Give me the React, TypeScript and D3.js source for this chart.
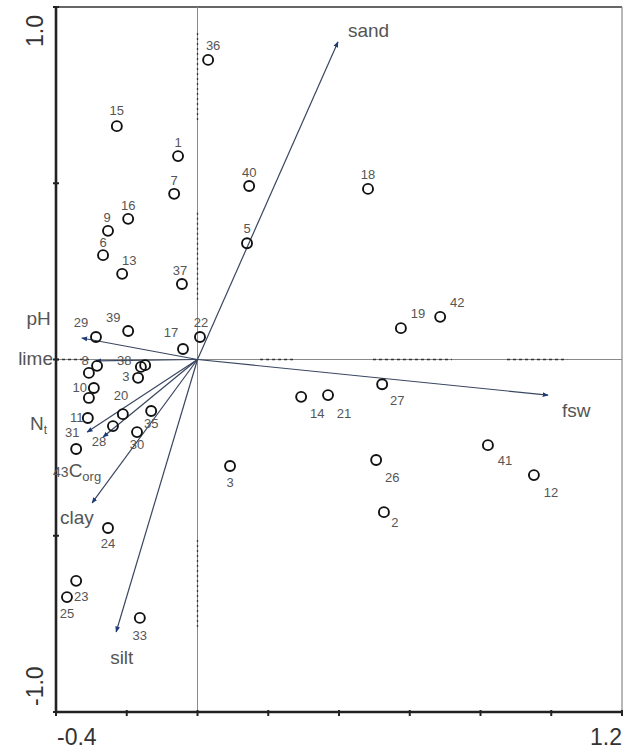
import React from 'react'
import * as d3 from 'd3'

// site scores on the first two axes
const siteIds = [36, 15, 1, 7, 40, 18, 16, 9, 6, 5, 13, 37, 19, 42, 39, 29, 22, 17, 8, 4, 38, 32, 20, 10, 34, 11, 43, 35, 28, 30, 31, 3, 24, 23, 25, 33, 14, 21, 27, 26, 2, 41, 12]
const siteLabels = ['36', '15', '1', '7', '40', '18', '16', '9', '6', '5', '13', '37', '19', '42', '39', '29', '22', '17', '8', '', '38', '3', '20', '10', '', '11', '', '35', '28', '30', '31', '3', '24', '23', '25', '33', '14', '21', '27', '26', '2', '41', '12']
const siteX = [0.030, -0.228, -0.055, -0.066, 0.146, 0.482, -0.196, -0.253, -0.267, 0.140, -0.213, -0.044, 0.575, 0.686, -0.196, -0.287, 0.007, -0.041, -0.284, -0.307, -0.148, -0.160, -0.168, -0.293, -0.307, -0.310, -0.211, -0.131, -0.239, -0.171, -0.343, 0.092, -0.253, -0.343, -0.369, -0.163, 0.293, 0.369, 0.522, 0.505, 0.527, 0.821, 0.951]
const siteY = [0.850, 0.662, 0.577, 0.470, 0.492, 0.484, 0.399, 0.365, 0.296, 0.330, 0.243, 0.214, 0.089, 0.121, 0.081, 0.064, 0.064, 0.030, -0.018, -0.038, -0.016, -0.021, -0.052, -0.081, -0.109, -0.166, -0.155, -0.146, -0.189, -0.206, -0.254, -0.302, -0.478, -0.628, -0.674, -0.733, -0.106, -0.101, -0.070, -0.285, -0.433, -0.243, -0.328]

// environmental variables (biplot arrows)
const envNames = ['sand', 'fsw', 'pH', 'lime', 'Nt', 'Corg', 'clay', 'silt']
const envX = [0.397, 0.991, -0.327, -0.287, -0.312, -0.267, -0.298, -0.230]
const envY = [0.901, -0.101, 0.061, -0.004, -0.206, -0.220, -0.407, -0.773]

const xTicks = [-0.4, -0.2, 0, 0.2, 0.4, 0.6, 0.8, 1.0, 1.2]
const yTicks = [-1, -0.5, 0, 0.5, 1]

// label placement: [dx, dy] from the point, in px
const siteLabelPos: Record<number, [number, number]> = {
  36: [5, -10], 15: [0, -11], 1: [0, -9], 7: [0, -9], 40: [0, -9], 18: [0, -10],
  16: [0, -9], 9: [-1, -9], 6: [0, -8], 5: [0, -10], 13: [7, -9], 37: [-2, -9],
  19: [17, -10], 42: [17, -10], 39: [-15, -9], 29: [-15, -10], 22: [1, -10], 17: [-12, -12],
  8: [-12, -1], 38: [-21, 0], 32: [-15, 14], 20: [-17, 22], 10: [-14, 4], 11: [-11, 4],
  35: [0, 17], 28: [-14, 20], 30: [0, 17], 31: [-4, -12], 3: [0, 21], 24: [0, 20],
  23: [5, 20], 25: [0, 21], 33: [0, 22], 14: [16, 21], 21: [16, 23], 27: [15, 21],
  26: [16, 22], 2: [11, 15], 41: [17, 20], 12: [17, 22],
}
const envLabelPos: Record<string, [number, number, string]> = {
  sand: [10, -5, 'start'], fsw: [14, 22, 'start'], pH: [-31, -13, 'end'], lime: [-43, 4, 'end'],
  Nt: [-40, -2, 'end'], Corg: [-50, 40, 'start'], clay: [-32, 21, 'start'], silt: [-6, 32, 'start'],
}
// dotted pieces of the zero lines (scan look)
const vDots = [[0.926, 0.671], [0.416, 0.169], [-0.512, -0.767]]
const hDots = [[-0.4, -0.304], [0.177, 0.27], [0.496, 0.719], [0.875, 1.045]]

const font = '"Liberation Sans", Arial, sans-serif'

export default function App() {
  const left = 56, right = 622, top = 7, bottom = 712
  const x = d3.scaleLinear().domain([-0.4, 1.2]).range([left, right])
  const y = d3.scaleLinear().domain([-1, 1]).range([bottom, top])
  const ox = x(0), oy = y(0)

  return (
    <svg width={626} height={749} style={{ position: 'absolute', left: 0, top: 0, background: '#fff' }} fontFamily={font}>
      <defs>
        <marker id="ah" viewBox="0 0 10 10" refX="9" refY="5" markerWidth="5" markerHeight="5" orient="auto">
          <path d="M0,1 L10,5 L0,9 Z" fill="#1e3a78" />
        </marker>
      </defs>

      {/* frame */}
      <line x1={left} x2={right} y1={top} y2={top} stroke="#666" strokeWidth={2} />
      <line x1={right} x2={right} y1={top} y2={bottom} stroke="#888" strokeWidth={1.2} />

      {/* zero lines */}
      <line x1={ox} x2={ox} y1={top} y2={bottom} stroke="#8a8a8a" strokeWidth={1} />
      <line x1={left} x2={right} y1={oy} y2={oy} stroke="#8a8a8a" strokeWidth={1} />
      {vDots.map((d, i) => (
        <line key={`vd${i}`} x1={ox} x2={ox} y1={y(d[0])} y2={y(d[1])} stroke="#333" strokeWidth={1.3} strokeDasharray="2,3" />
      ))}
      {hDots.map((d, i) => (
        <line key={`hd${i}`} x1={x(d[0])} x2={x(d[1])} y1={oy} y2={oy} stroke="#333" strokeWidth={1.3} strokeDasharray="3,3" />
      ))}

      {/* axes */}
      <line x1={left} x2={left} y1={top} y2={bottom} stroke="#222" strokeWidth={2.6} />
      <line x1={left} x2={right} y1={bottom} y2={bottom} stroke="#222" strokeWidth={2.6} />
      {xTicks.map(t => (
        <line key={`xt${t}`} x1={x(t)} x2={x(t)} y1={bottom - 2} y2={bottom + 4} stroke="#222" strokeWidth={2} />
      ))}
      {yTicks.map(t => (
        <line key={`yt${t}`} x1={left - 3} x2={left + 3} y1={y(t)} y2={y(t)} stroke="#222" strokeWidth={2} />
      ))}
      <text x={x(-0.4) + 1} y={745} fontSize={23} fill="#333">-0.4</text>
      <text x={x(1.2)} y={745} fontSize={23} fill="#333" textAnchor="end">1.2</text>
      <text transform={`translate(43,${y(1) + 40}) rotate(-90)`} fontSize={23} fill="#333">1.0</text>
      <text transform={`translate(43,${y(-1) - 6}) rotate(-90)`} fontSize={23} fill="#333">-1.0</text>

      {/* arrows */}
      {envNames.map((n, i) => (
        <line key={`a${n}`} x1={ox} y1={oy} x2={x(envX[i])} y2={y(envY[i])} stroke="#3a4660" strokeWidth={1.2} markerEnd="url(#ah)" />
      ))}
      {envNames.map((n, i) => {
        const [dx, dy, anchor] = envLabelPos[n]
        const tx = x(envX[i]) + dx, ty = y(envY[i]) + dy
        if (n === 'Nt') {
          return (
            <text key={`l${n}`} x={tx} y={ty} fontSize={19} fill="#555" textAnchor={anchor}>
              N<tspan fontSize={12} dy={4}>t</tspan>
            </text>
          )
        }
        if (n === 'Corg') {
          return (
            <text key={`l${n}`} x={tx} y={ty} fontSize={19} fill="#555" textAnchor={anchor}>
              <tspan fontSize={14}>43</tspan>C<tspan fontSize={13} dy={4}>org</tspan>
            </text>
          )
        }
        return (
          <text key={`l${n}`} x={tx} y={ty} fontSize={19} fill="#555" textAnchor={anchor}>{n}</text>
        )
      })}

      {/* sites */}
      {siteIds.map((id, i) => (
        <circle key={`c${id}`} cx={x(siteX[i])} cy={y(siteY[i])} r={5} fill="none" stroke="#111" strokeWidth={1.9} />
      ))}
      {siteIds.map((id, i) => {
        const pos = siteLabelPos[id]
        if (!pos || !siteLabels[i]) return null
        return (
          <text key={`t${id}`} x={x(siteX[i]) + pos[0]} y={y(siteY[i]) + pos[1]} fontSize={13} fill="#555" textAnchor="middle">
            {siteLabels[i]}
          </text>
        )
      })}
    </svg>
  )
}
